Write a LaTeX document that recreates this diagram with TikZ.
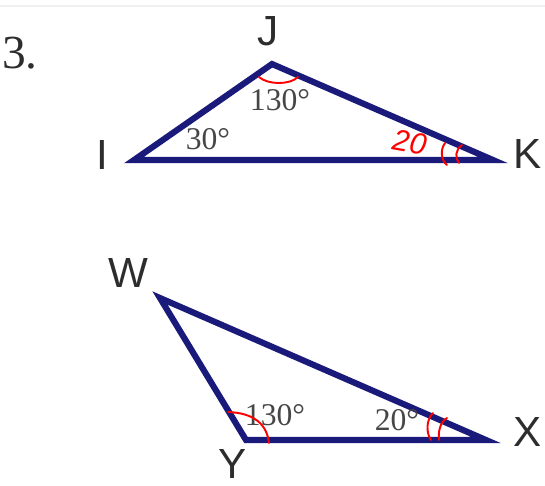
\documentclass[tikz,border=0pt]{standalone}
\usepackage{fontspec}
\setmainfont{Liberation Serif}
\setsansfont{Liberation Sans}
\usepackage{tikz}
\usepackage{xcolor}
\definecolor{navy}{RGB}{26,26,122}
\definecolor{inkgray}{RGB}{45,45,45}
\definecolor{printgray}{RGB}{70,70,70}

\begin{document}
\begin{tikzpicture}[x=0.02cm, y=-0.02cm,
    side/.style={draw=navy, line width=3.5pt, line join=miter},
    vertex/.style={inner sep=0pt, text=inkgray, font=\sffamily\fontsize{24}{24}\selectfont},
    anglabel/.style={inner sep=0pt, text=printgray, font=\rmfamily\fontsize{18}{18}\selectfont},
    redmark/.style={draw=red, line width=1.1pt, line cap=round}]

    \useasboundingbox (0,0) rectangle (545,485);
    \draw[gray!12, line width=0.6pt] (0,6) -- (545,6);

    % Number
    \node[inner sep=0pt, text=inkgray, font=\rmfamily\fontsize{27}{27}\selectfont] (num) at (20,53) {3.};

    % Triangle IJK
    \coordinate (I) at (134,160);
    \coordinate (J) at (272,64);
    \coordinate (K) at (493,160);
    \draw[side] (I) -- (J) -- (K) -- cycle;

    \node[vertex] (lI) at (102,155) {I};
    \node[vertex] (lJ) at (268,31) {J};
    \node[vertex] (lK) at (528,154) {K};

    \node[anglabel] (aJ) at (280,100) {130°};
    \node[anglabel] (aI) at (208,139) {30°};

    % Triangle WYX
    \coordinate (W) at (160,298);
    \coordinate (Y) at (246,440);
    \coordinate (X) at (486,440);
    \draw[side] (W) -- (Y) -- (X) -- cycle;

    \node[vertex] (lW) at (128,273) {W};
    \node[vertex] (lY) at (233,464) {Y};
    \node[vertex] (lX) at (528,432) {X};

    \node[anglabel] (aY) at (275,415) {130°};
    \node[anglabel] (aX) at (397,420) {20°};

    % Red marks
    \node[inner sep=0pt, text=red, rotate=-10, font=\sffamily\itshape\fontsize{17}{17}\selectfont] (hK) at (410,142) {20};
    \draw[redmark] (259,77) .. controls (268,85) and (290,85) .. (298,77);
    \draw[redmark] (445,143) .. controls (440,150) and (441,160) .. (447,165);
    \draw[redmark] (462,145) .. controls (455,150) and (455,158) .. (459,163);
    \draw[redmark] (228,412) .. controls (255,413) and (267,425) .. (269,443);
    \draw[redmark] (433,413) .. controls (426,420) and (426,433) .. (431,440);
    \draw[redmark] (447,418) .. controls (440,422) and (438,432) .. (439,440);

\end{tikzpicture}
\end{document}
